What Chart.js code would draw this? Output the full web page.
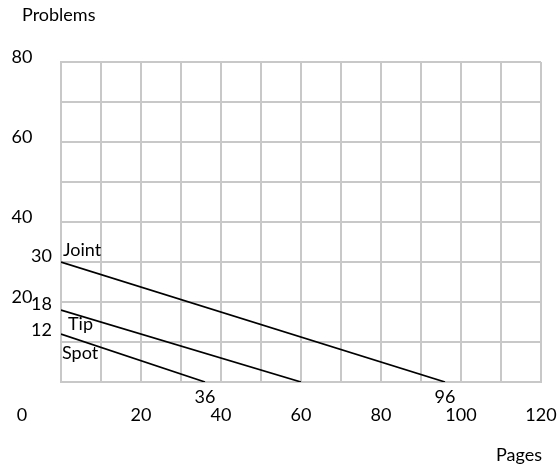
<!DOCTYPE html>
<html>
<head>
<meta charset="utf-8">
<script src="https://cdn.jsdelivr.net/npm/chart.js@4"></script>
<style>
  html, body { margin: 0; padding: 0; background: #fff; }
  #wrap { width: 559px; height: 472px; }
</style>
</head>
<body>
<div id="wrap"><canvas id="chart" width="559" height="472"></canvas></div>
<script>
// data
const seriesNames = ['Joint', 'Tip', 'Spot']
const problemsAtZero = [30, 18, 12]
const pagesAtZero = [96, 60, 36]

const xTickLabels = [20, 40, 60, 80, 100, 120]
const yTickLabels = [20, 40, 60, 80]
const xMax = 120
const yMax = 80

// value labels written next to the axes
const yValueLabels = [30, 18, 12]
const xValueLabels = [36, 96]

const FONT = '18px Lato, "Liberation Sans", sans-serif'

const datasets = seriesNames.map((name, i) => ({
    label: name,
    data: [
        { x: 0, y: problemsAtZero[i] },
        { x: pagesAtZero[i], y: 0 },
    ],
    showLine: true,
    borderColor: '#000',
    borderWidth: 1.7,
    pointRadius: 0,
    fill: false,
}))

const textPlugin = {
    id: 'textLabels',
    afterDraw(chart) {
        const ctx = chart.ctx
        const xs = chart.scales.x
        const ys = chart.scales.y
        const area = chart.chartArea

        ctx.save()
        ctx.fillStyle = '#000'
        ctx.font = FONT
        ctx.textBaseline = 'middle'

        // axis titles
        ctx.textAlign = 'left'
        ctx.fillText('Problems', 22, 15)
        ctx.textAlign = 'right'
        ctx.fillText('Pages', area.right + 1, 455)

        // y ticks, left side
        ctx.textAlign = 'center'
        yTickLabels.forEach((v) => {
            ctx.fillText(String(v), 22, ys.getPixelForValue(v) - 5)
        })
        ctx.fillText('0', 22, 415)

        // x ticks, below
        xTickLabels.forEach((v) => {
            ctx.fillText(String(v), xs.getPixelForValue(v), 415)
        })

        // intercept values
        ctx.textAlign = 'right'
        const yShift = [-6, -6, -4]
        yValueLabels.forEach((v, i) => {
            ctx.fillText(String(v), 52, ys.getPixelForValue(v) + yShift[i])
        })
        ctx.textAlign = 'center'
        xValueLabels.forEach((v) => {
            ctx.fillText(String(v), xs.getPixelForValue(v), 397)
        })

        // series names
        ctx.textAlign = 'left'
        ctx.fillText(seriesNames[0], 63, ys.getPixelForValue(problemsAtZero[0]) - 12)
        ctx.fillText(seriesNames[1], 68, ys.getPixelForValue(problemsAtZero[1]) + 14)
        ctx.fillText(seriesNames[2], 62, ys.getPixelForValue(problemsAtZero[2]) + 19)

        ctx.restore()
    },
}

new Chart(document.getElementById('chart'), {
    type: 'scatter',
    data: { datasets },
    options: {
        responsive: false,
        animation: false,
        events: [],
        layout: { padding: { left: 61, top: 62, right: 18, bottom: 90 } },
        plugins: {
            legend: { display: false },
            tooltip: { enabled: false },
        },
        scales: {
            x: {
                type: 'linear',
                min: 0,
                max: xMax,
                ticks: { stepSize: 10, display: false },
                grid: { color: '#c8c8c8', lineWidth: 2, drawTicks: false },
                border: { color: '#c8c8c8', width: 2 },
            },
            y: {
                type: 'linear',
                min: 0,
                max: yMax,
                ticks: { stepSize: 10, display: false },
                grid: { color: '#c8c8c8', lineWidth: 2, drawTicks: false },
                border: { color: '#c8c8c8', width: 2 },
            },
        },
    },
    plugins: [textPlugin],
})
</script>
</body>
</html>
